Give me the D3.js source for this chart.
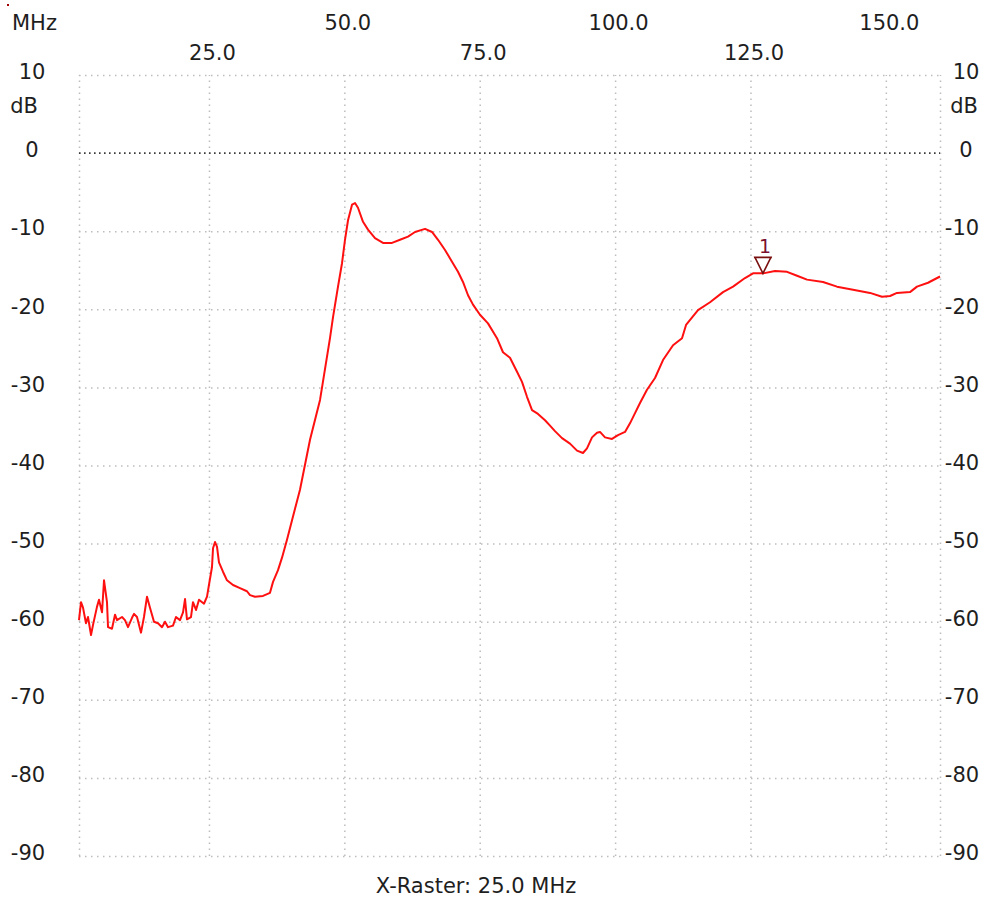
<!DOCTYPE html>
<html>
<head>
<meta charset="utf-8">
<script src="https://cdn.jsdelivr.net/npm/d3@7/dist/d3.min.js"></script>
<style>
    body { margin: 0; background: #fff; }
    text { font-family: "DejaVu Sans", Verdana, sans-serif; fill: #1e1e1e; }
    .grid path { display: none; }
    .grid line { stroke: #bdbdbd; stroke-width: 1.5; stroke-dasharray: 1.5, 4.5; }
    .labels path, .labels line { display: none; }
</style>
</head>
<body>
<div id="chart"></div>
<script>
    // tick labels
    var freqTicksTop = [50, 100, 150];       // upper row
    var freqTicksLow = [25, 75, 125];        // lower row
    var dbTicks = [10, 0, -10, -20, -30, -40, -50, -60, -70, -80, -90];

    // trace (MHz / dB)
    var freq = [1.0, 1.37, 1.74, 2.29, 2.66, 3.22, 3.59, 4.32, 4.69, 5.25, 5.62, 6.17, 6.36, 7.09,
        7.65, 8.02, 8.94, 9.49, 10.05, 10.79, 11.16, 11.71, 12.45, 13.0, 13.56, 14.11, 14.85, 15.59,
        16.33, 16.88, 17.44, 18.36, 18.91, 19.65, 20.21, 20.58, 20.94, 21.68, 22.05, 22.61, 23.16,
        24.08, 24.64, 25.0, 25.56, 25.75, 26.12, 26.48, 26.85, 27.59, 28.33, 29.44, 30.73, 32.02,
        32.58, 33.5, 34.98, 36.27, 36.83, 37.75, 38.49, 39.41, 40.34, 41.81, 43.66, 45.51, 47.35,
        47.91, 48.83, 49.57, 50.12, 50.68, 51.42, 51.97, 52.52, 53.45, 54.37, 55.66, 57.14, 58.8,
        60.28, 61.76, 63.05, 64.9, 66.19, 67.3, 68.59, 69.88, 70.99, 71.91, 72.84, 73.76, 75.05,
        76.53, 78.19, 79.3, 80.59, 81.89, 82.81, 83.73, 84.66, 85.76, 87.06, 87.98, 88.9, 90.2,
        91.67, 92.97, 94.07, 94.81, 95.74, 96.66, 97.21, 98.14, 99.43, 100.54, 101.83, 102.75,
        103.68, 104.6, 105.89, 107.37, 108.85, 110.7, 112.36, 113.1, 115.31, 117.53, 119.93,
        121.78, 123.99, 125.47, 127.32, 129.53, 131.75, 133.6, 135.44, 138.4, 140.98, 143.94,
        147.08, 149.29, 150.77, 152.06, 154.46, 155.75, 157.79, 160.0];
    var level = [-59.8, -57.5, -58.2, -60.2, -59.4, -61.7, -60.4, -58.1, -57.2, -58.8, -54.7, -57.5,
        -60.7, -60.9, -59.1, -59.8, -59.4, -59.8, -60.7, -59.5, -59.0, -59.4, -61.4, -59.4, -56.8,
        -58.2, -60.0, -60.2, -60.7, -60.0, -60.7, -60.5, -59.4, -59.8, -58.8, -57.1, -59.7, -59.4,
        -57.5, -58.5, -57.2, -57.7, -56.8, -55.3, -53.0, -50.6, -49.8, -50.4, -52.4, -53.6, -54.7,
        -55.3, -55.7, -56.1, -56.6, -56.8, -56.7, -56.3, -54.9, -53.4, -51.8, -49.5, -47.0, -43.1,
        -36.7, -31.6, -23.7, -21.0, -17.1, -14.1, -11.1, -8.6, -6.6, -6.4, -7.0, -8.8, -9.8, -10.9,
        -11.5, -11.5, -11.1, -10.7, -10.1, -9.7, -10.1, -11.1, -12.4, -13.9, -15.2, -16.5, -18.2,
        -19.4, -20.7, -21.8, -23.7, -25.5, -26.2, -28.0, -29.3, -31.2, -32.9, -33.4, -34.2, -34.9,
        -35.6, -36.5, -37.2, -38.1, -38.4, -37.8, -36.4, -35.8, -35.7, -36.4, -36.6, -36.1, -35.7,
        -34.6, -33.3, -32.0, -30.3, -28.8, -26.5, -24.6, -23.7, -22.0, -20.1, -19.1, -17.8, -17.1,
        -16.0, -15.4, -15.4, -15.1, -15.2, -15.7, -16.2, -16.5, -17.1, -17.5, -17.9, -18.4, -18.3,
        -17.9, -17.8, -17.1, -16.6, -15.8];

    // marker 1
    var markerFreq = [127.3];
    var markerLevel = [-15.4];
    var markerName = ["1"];

    var W = 986, H = 902;
    var mLeft = 79, mRight = 940, mTop = 75, mBottom = 856;

    var svg = d3.select("#chart").append("svg")
        .attr("width", W)
        .attr("height", H);

    var x = d3.scaleLinear().domain([1, 160]).range([mLeft, mRight]),
        y = d3.scaleLinear().domain([-90, 10]).range([mBottom, mTop]);

    // plain hyphen for negatives, like the analyser prints it
    var dbFormat = function (d) { return String(d); };

    // vertical grid (raster lines + frame edges)
    svg.append("g")
        .attr("class", "grid")
        .attr("transform", "translate(0," + mBottom + ")")
        .call(d3.axisBottom(x)
            .tickValues([1].concat(freqTicksLow, freqTicksTop, [160]))
            .tickSize(-(mBottom - mTop))
            .tickFormat(""));

    // horizontal grid
    svg.append("g")
        .attr("class", "grid")
        .attr("transform", "translate(" + mLeft + ",0)")
        .call(d3.axisLeft(y)
            .tickValues(dbTicks.filter(function (d) { return d !== 0; }))
            .tickSize(-(mRight - mLeft))
            .tickFormat(""));

    // 0 dB reference line is darker
    svg.append("line")
        .attr("x1", x(1)).attr("x2", x(160))
        .attr("y1", y(0)).attr("y2", y(0))
        .attr("stroke", "#3a3a3a")
        .attr("stroke-width", 1.6)
        .attr("stroke-dasharray", "1.6,3.4");

    // frequency labels, two staggered rows
    svg.append("g")
        .attr("class", "labels")
        .attr("transform", "translate(3,30)")
        .call(d3.axisTop(x).tickValues(freqTicksTop).tickSize(0).tickPadding(0)
            .tickFormat(d3.format(".1f")))
        .selectAll("text").style("font-size", "21px");

    svg.append("g")
        .attr("class", "labels")
        .attr("transform", "translate(3,60)")
        .call(d3.axisTop(x).tickValues(freqTicksLow).tickSize(0).tickPadding(0)
            .tickFormat(d3.format(".1f")))
        .selectAll("text").style("font-size", "21px");

    svg.append("text")
        .attr("x", 12).attr("y", 30)
        .style("font-size", "21px")
        .text("MHz");

    // dB labels both sides
    var yl = svg.append("g")
        .attr("class", "labels")
        .attr("transform", "translate(32,0)")
        .call(d3.axisLeft(y).tickValues(dbTicks).tickSize(0).tickPadding(0).tickFormat(dbFormat));
    yl.selectAll("text")
        .attr("text-anchor", "middle")
        .attr("x", function (d) { return d < 0 ? -4 : 0; })
        .attr("dy", "0.32em")
        .attr("y", -3)
        .style("font-size", "21px");

    var yr = svg.append("g")
        .attr("class", "labels")
        .attr("transform", "translate(966,0)")
        .call(d3.axisRight(y).tickValues(dbTicks).tickSize(0).tickPadding(0).tickFormat(dbFormat));
    yr.selectAll("text")
        .attr("text-anchor", "middle")
        .attr("x", function (d) { return d < 0 ? -4 : 0; })
        .attr("dy", "0.32em")
        .attr("y", -3)
        .style("font-size", "21px");

    svg.append("text").attr("x", 24).attr("y", 113)
        .attr("text-anchor", "middle").style("font-size", "21px").text("dB");
    svg.append("text").attr("x", 964).attr("y", 113)
        .attr("text-anchor", "middle").style("font-size", "21px").text("dB");

    svg.append("text")
        .attr("x", 476).attr("y", 893)
        .attr("text-anchor", "middle")
        .style("font-size", "21px")
        .text("X-Raster: 25.0 MHz");

    // trace
    var line = d3.line()
        .x(function (d, i) { return x(freq[i]); })
        .y(function (d, i) { return y(level[i]); });

    svg.append("path")
        .datum(level)
        .attr("fill", "none")
        .attr("stroke", "#ff1010")
        .attr("stroke-width", 2)
        .attr("stroke-linejoin", "round")
        .attr("d", line);

    // marker triangle + number
    var mk = svg.selectAll(".marker")
        .data(markerFreq)
        .enter().append("g")
        .attr("class", "marker")
        .attr("transform", function (d, i) {
            return "translate(" + x(d) + "," + y(markerLevel[i]) + ")";
        });

    mk.append("path")
        .attr("d", "M0,0 L-8,-16 L8,-16 Z M-9,-16 L9,-16")
        .attr("fill", "none")
        .attr("stroke", "#7a1010")
        .attr("stroke-width", 1.6);

    mk.append("text")
        .attr("x", 2).attr("y", -20)
        .attr("text-anchor", "middle")
        .style("font-size", "19px")
        .style("fill", "#7a1030")
        .text(function (d, i) { return markerName[i]; });

    // small status dot, top left corner
    svg.append("rect")
        .attr("x", 7).attr("y", 4)
        .attr("width", 2).attr("height", 2)
        .attr("fill", "#a00000");
</script>
</body>
</html>
